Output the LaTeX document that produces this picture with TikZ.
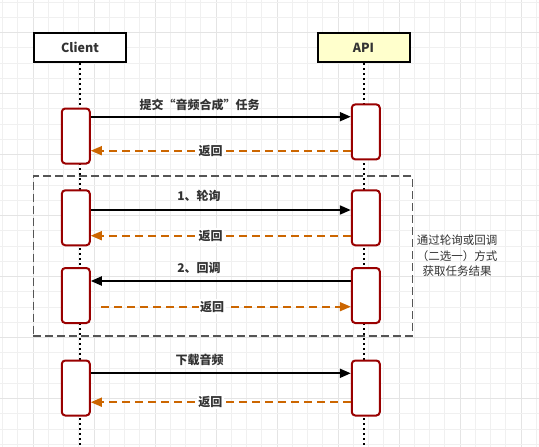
\documentclass[tikz,border=0pt]{standalone}
\usepackage{fontspec}
\setmainfont{Noto Sans CJK SC}
\usetikzlibrary{arrows.meta}
\definecolor{txt}{HTML}{333333}
\definecolor{actred}{HTML}{990000}
\definecolor{retcol}{HTML}{CC6600}
\definecolor{apiy}{HTML}{FFFFCC}
\definecolor{gridminor}{HTML}{F0F0F0}
\definecolor{gridmajor}{HTML}{E4E4E4}
\definecolor{grpcol}{HTML}{555555}
\tikzset{
  headbox/.style={draw=black, line width=2pt, minimum width=92pt, minimum height=29pt, inner sep=0pt, font=\bfseries\fontsize{12.5}{14}\selectfont, text=txt},
  actbox/.style={draw=actred, fill=white, line width=2pt, rounded corners=3.5pt, minimum width=28pt, minimum height=55pt, inner sep=0pt},
  lifeline/.style={line width=2pt, dash pattern=on 2pt off 3pt, black},
  callarrow/.style={line width=2pt, black, -{Triangle[length=11pt,width=9pt]}},
  retarrow/.style={line width=1.6pt, retcol, dash pattern=on 8pt off 5pt, -{Triangle[length=11pt,width=9pt]}},
  msglabel/.style={font=\bfseries\fontsize{12}{14}\selectfont, text=txt, inner sep=0.5pt},
  retlabel/.style={font=\bfseries\fontsize{12}{14}\selectfont, text=txt, fill=white, inner sep=1.5pt},
  grplabel/.style={font=\fontsize{11.5}{15.5}\selectfont, text=txt, align=center},
  grpbox/.style={draw=grpcol, line width=1.6pt, dash pattern=on 8pt off 4pt, minimum width=379pt, minimum height=160pt, inner sep=0pt}
}
\begin{document}
\begin{tikzpicture}[x=1pt,y=-1pt]
\useasboundingbox[fill=white] (0,0) rectangle (539,447);
% grid
\foreach \k in {0,...,35} {
  \pgfmathtruncatemacro{\m}{mod(\k,4)}
  \ifnum\m=2
    \draw[gridmajor, line width=1pt] ({2.5+\k*15.25},0) -- ({2.5+\k*15.25},447);
  \else
    \draw[gridminor, line width=1pt] ({2.5+\k*15.25},0) -- ({2.5+\k*15.25},447);
  \fi
}
\foreach \k in {0,...,29} {
  \pgfmathtruncatemacro{\m}{mod(\k,4)}
  \ifnum\m=2
    \draw[gridmajor, line width=1pt] (0,{2.2+\k*15.25}) -- (539,{2.2+\k*15.25});
  \else
    \draw[gridminor, line width=1pt] (0,{2.2+\k*15.25}) -- (539,{2.2+\k*15.25});
  \fi
}
% group box
\node[grpbox] (grp) at (222.8,255.7) {};
\node[grplabel] (grplbl) at (457,256) {通过轮询或回调\\（二选一）方式\\获取任务结果};
% heads
\node[headbox, fill=white] (client) at (80,47.7) {Client};
\node[headbox, fill=apiy] (api) at (363.5,47.7) {API};
\coordinate (cend) at (80,447);
\coordinate (aend) at (364,447);
\draw[lifeline] (client.south) -- (cend);
\draw[lifeline] (api.south -| aend) -- (aend);
% activations
\node[actbox] (ca1) at (75.8,136) {};
\node[actbox] (aa1) at (365.8,131.9) {};
\node[actbox] (ca2) at (75.8,217.8) {};
\node[actbox] (aa2) at (365.8,217.8) {};
\node[actbox] (ca3) at (75.8,295.5) {};
\node[actbox] (aa3) at (365.8,295.5) {};
\node[actbox] (ca4) at (75.8,388) {};
\node[actbox] (aa4) at (365.8,388) {};
% y levels
\coordinate (y1) at (0,116.7);
\coordinate (y2) at (0,150.7);
\coordinate (y3) at (0,210);
\coordinate (y4) at (0,235.7);
\coordinate (y5) at (0,281);
\coordinate (r3s) at (101,306.7);
\coordinate (y7) at (0,373.3);
\coordinate (y8) at (0,402.2);
% messages
\draw[callarrow] (ca1.east |- y1) -- (aa1.west |- y1);
\draw[retarrow] (aa1.west |- y2) -- (ca1.east |- y2);
\draw[callarrow] (ca2.east |- y3) -- (aa2.west |- y3);
\draw[retarrow] (aa2.west |- y4) -- (ca2.east |- y4);
\draw[callarrow] (aa3.west |- y5) -- (ca3.east |- y5);
\draw[retarrow] (r3s) -- (aa3.west |- r3s);
\draw[callarrow] (ca4.east |- y7) -- (aa4.west |- y7);
\draw[retarrow] (aa4.west |- y8) -- (ca4.east |- y8);
% labels
\node[msglabel] (l1) at (199.5,104.5) {提交“音频合成”任务};
\node[retlabel] (r1) at (210.7,150.7) {返回};
\node[msglabel] (l2) at (199,196.2) {1、轮询};
\node[retlabel] (r2) at (210.7,235.7) {返回};
\node[msglabel] (l3) at (199,267.8) {2、回调};
\node[retlabel] (r3) at (212,306.7) {返回};
\node[msglabel] (l4) at (199.7,359.7) {下载音频};
\node[retlabel] (r4) at (210.3,402.2) {返回};
\end{tikzpicture}
\end{document}
